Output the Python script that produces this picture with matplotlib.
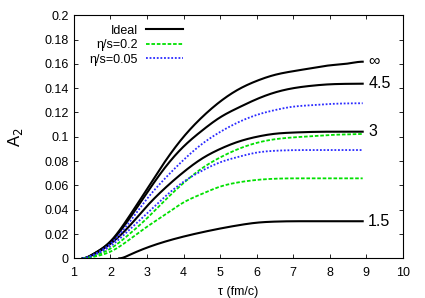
import matplotlib
matplotlib.use("Agg")
import matplotlib.pyplot as plt
import numpy as np

plt.rcParams['font.family'] = ['Liberation Sans', 'DejaVu Sans']

tau = [1.24, 1.5, 2.0, 2.5, 3.0, 3.5, 4.0, 4.5, 5.0, 5.5, 6.0, 6.5, 7.0, 7.5, 8.0, 8.5, 8.9]

ideal_inf = [0, 0.003, 0.014, 0.034, 0.057, 0.080, 0.100, 0.116, 0.129, 0.139, 0.146, 0.151, 0.154, 0.1565, 0.1588, 0.1603, 0.1618]
ideal_45 = [0, 0.003, 0.0135, 0.032, 0.054, 0.075, 0.092, 0.105, 0.116, 0.124, 0.131, 0.1365, 0.140, 0.142, 0.1432, 0.1436, 0.1437]
ideal_3 = [0, 0.0025, 0.012, 0.026, 0.043, 0.058, 0.071, 0.082, 0.090, 0.096, 0.100, 0.1025, 0.1035, 0.104, 0.1042, 0.1042, 0.1042]
tau_15 = [2.24, 2.5, 3.0, 3.5, 4.0, 4.5, 5.0, 5.5, 6.0, 6.5, 7.0, 7.5, 8.0, 8.5, 8.9]
ideal_15 = [0, 0.0025, 0.0088, 0.0138, 0.0179, 0.0214, 0.0245, 0.0272, 0.0293, 0.0302, 0.0305, 0.0305, 0.0305, 0.0305, 0.0305]

visc02_a = [0, 0.0015, 0.008, 0.0195, 0.033, 0.048, 0.062, 0.074, 0.083, 0.090, 0.095, 0.098, 0.0995, 0.1005, 0.1015, 0.102, 0.1023]
visc02_b = [0, 0.001, 0.0055, 0.015, 0.026, 0.036, 0.046, 0.053, 0.059, 0.0625, 0.0645, 0.0655, 0.0658, 0.0658, 0.0658, 0.0658, 0.0658]
visc005_a = [0, 0.0025, 0.012, 0.029, 0.049, 0.066, 0.081, 0.094, 0.104, 0.112, 0.118, 0.122, 0.1248, 0.126, 0.127, 0.1275, 0.1276]
visc005_b = [0, 0.002, 0.010, 0.023, 0.037, 0.051, 0.063, 0.072, 0.079, 0.0835, 0.087, 0.0885, 0.089, 0.0891, 0.0891, 0.0891, 0.0891]

curve_labels = ["\u221e", "4.5", "3", "1.5"]
label_values = [ideal_inf[-1], ideal_45[-1], ideal_3[-1], ideal_15[-1]]

xticks = [1, 2, 3, 4, 5, 6, 7, 8, 9, 10]
yticks = [0, 0.02, 0.04, 0.06, 0.08, 0.1, 0.12, 0.14, 0.16, 0.18, 0.2]
ytick_labels = ["0", "0.02", "0.04", "0.06", "0.08", "0.1", "0.12", "0.14", "0.16", "0.18", "0.2"]

black = "black"
green = "#00e000"
blue = "#2a2aff"


def spline(x, y, n=400):
    """Clamped cubic spline (zero end slopes) through the read-off points."""
    x = np.asarray(x, float)
    y = np.asarray(y, float)
    N = len(x)
    h = np.diff(x)
    A = np.zeros((N, N))
    r = np.zeros(N)
    A[0, 0] = 2 * h[0]; A[0, 1] = h[0]
    r[0] = 3 * ((y[1] - y[0]) / h[0])
    A[-1, -2] = h[-1]; A[-1, -1] = 2 * h[-1]
    r[-1] = 3 * (-(y[-1] - y[-2]) / h[-1])
    for i in range(1, N - 1):
        A[i, i - 1] = h[i - 1]
        A[i, i] = 2 * (h[i - 1] + h[i])
        A[i, i + 1] = h[i]
        r[i] = 3 * ((y[i + 1] - y[i]) / h[i] - (y[i] - y[i - 1]) / h[i - 1])
    c = np.linalg.solve(A, r)
    b = (np.diff(y) / h) - h * (2 * c[:-1] + c[1:]) / 3
    d = np.diff(c) / (3 * h)
    xs = np.linspace(x[0], x[-1], n)
    idx = np.clip(np.searchsorted(x, xs) - 1, 0, N - 2)
    t = xs - x[idx]
    ys = y[idx] + b[idx] * t + c[idx] * t ** 2 + d[idx] * t ** 3
    return xs, ys


fig = plt.figure(figsize=(4.25, 2.98), dpi=100)
ax = fig.add_axes([0.174, 0.1332, 0.774, 0.8155])

lw_b = 1.5
l1, = ax.plot(*spline(tau, ideal_inf), color=black, lw=lw_b, label="Ideal")
ax.plot(*spline(tau, ideal_45), color=black, lw=lw_b)
ax.plot(*spline(tau, ideal_3), color=black, lw=lw_b)
ax.plot(*spline(tau_15, ideal_15), color=black, lw=lw_b)
l2, = ax.plot(*spline(tau, visc02_a), color=green, lw=1.3, dashes=(2, 1), label="\u03b7/s=0.2")
ax.plot(*spline(tau, visc02_b), color=green, lw=1.3, dashes=(2, 1))
l3, = ax.plot(*spline(tau, visc005_a), color=blue, lw=1.3, dashes=(1, 1), label="\u03b7/s=0.05")
ax.plot(*spline(tau, visc005_b), color=blue, lw=1.3, dashes=(1, 1))

for lab, v in zip(curve_labels, label_values):
    ax.text(9.05, v, lab, fontsize=11.5, ha="left", va="center")

ax.set_xlim(1, 10)
ax.set_ylim(0, 0.2)
ax.set_xticks(xticks)
ax.set_yticks(yticks)
ax.set_yticklabels(ytick_labels)
ax.tick_params(direction="in", top=True, right=True, labelsize=9, length=3, width=0.6)
ax.tick_params(axis="x", pad=6)
ax.tick_params(axis="y", pad=4)
for s in ax.spines.values():
    s.set_linewidth(0.8)
ax.set_xlabel("\u03c4 (fm/c)", fontsize=9, labelpad=5.5)
ax.set_ylabel("A$_2$", fontsize=12, labelpad=14)

leg = ax.legend(handles=[l1, l2, l3], loc="upper right", bbox_to_anchor=(0.331, 0.962),
                frameon=False, markerfirst=False, fontsize=9, handlelength=2.95,
                handletextpad=0.65, labelspacing=0.2, borderaxespad=0, borderpad=0)

fig.savefig("out.png", dpi=100)
